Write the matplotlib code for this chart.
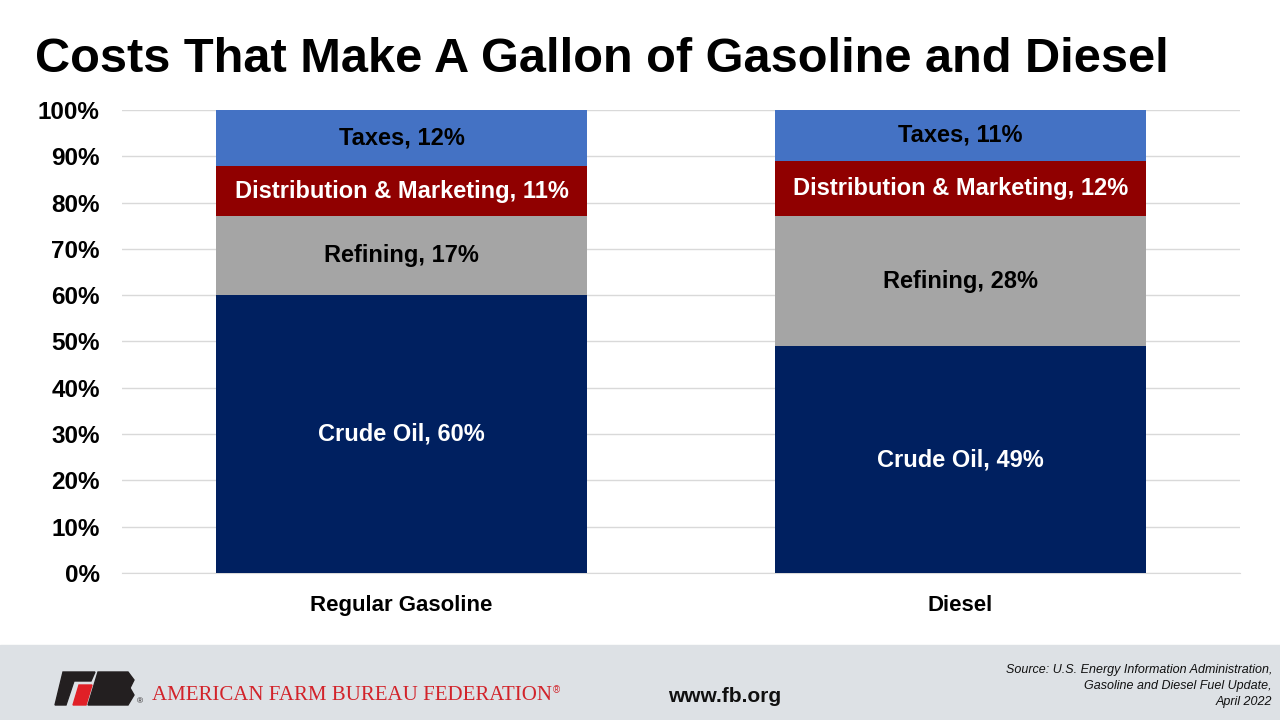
import matplotlib
matplotlib.use("Agg")
import matplotlib.pyplot as plt
from matplotlib.patches import Polygon, Rectangle
import numpy as np

# data
fuels = ["Regular Gasoline", "Diesel"]
components = ["Crude Oil", "Refining", "Distribution & Marketing", "Taxes"]
crude = [60, 49]
refining = [17, 28]
distribution = [11, 12]
taxes = [12, 11]
y_ticks = [0, 10, 20, 30, 40, 50, 60, 70, 80, 90, 100]

colors = ["#002060", "#A5A5A5", "#900000", "#4472C4"]
text_colors = ["white", "black", "white", "black"]

plt.rcParams["font.family"] = ["Liberation Sans", "DejaVu Sans"]

fig = plt.figure(figsize=(12.8, 7.2), dpi=100)
fig.patch.set_facecolor("white")


def fit_width(t, target_px):
    # shrink a text until it is as wide as the reference
    r = fig.canvas.get_renderer()
    w = t.get_window_extent(renderer=r).width
    t.set_fontsize(t.get_fontsize() * target_px / w)


# title
title = fig.text(35 / 1280, 1 - 60 / 720, "Costs That Make A Gallon of Gasoline and Diesel",
                 fontsize=37, fontweight="bold", va="center", ha="left")
fit_width(title, 1133)

ax = fig.add_axes([0.0953, 0.2042, 0.8734, 0.643])
x = np.arange(len(fuels))
bottom = np.zeros(len(fuels))
series = [crude, refining, distribution, taxes]
for name, vals, col, tcol in zip(components, series, colors, text_colors):
    vals = np.array(vals)
    ax.bar(x, vals, width=0.665, bottom=bottom, color=col, zorder=3)
    for xi, b, v in zip(x, bottom, vals):
        ax.text(xi, b + v / 2, "%s, %d%%" % (name, v), ha="center", va="center",
                color=tcol, fontsize=17, fontweight="bold", zorder=4)
    bottom = bottom + vals

ax.set_xlim(-0.5, 1.5)
ax.set_ylim(0, 100)
ax.set_yticks(y_ticks)
ax.set_yticklabels(["%d%%" % t for t in y_ticks], fontsize=17.5, fontweight="bold")
ax.set_xticks(x)
ax.set_xticklabels(fuels, fontsize=16, fontweight="bold")
ax.tick_params(length=0)
ax.tick_params(axis="y", pad=16)
ax.tick_params(axis="x", pad=16)
ax.grid(axis="y", color="#d9d9d9", lw=1, zorder=0)
for s in ["top", "right", "left"]:
    ax.spines[s].set_visible(False)
ax.spines["bottom"].set_color("#d9d9d9")

# footer band
fig.patches.append(Rectangle((0, 0), 1, 75 / 720, transform=fig.transFigure,
                             color="#dde1e5", zorder=0))
# simple FB logo
k = fig.transFigure
def px(xp, yp):
    return (xp / 1280, 1 - yp / 720)
fig.patches.append(Polygon([px(63, 672), px(95, 672), px(91, 681), px(74, 681),
                            px(66, 705), px(55, 705)], closed=True, color="#231f20", transform=k))
fig.patches.append(Polygon([px(79, 685), px(92, 685), px(86, 705), px(73, 705)],
                           closed=True, color="#e02027", transform=k))
fig.patches.append(Polygon([px(98, 672), px(128, 672), px(134, 680), px(130, 688),
                            px(134, 695), px(128, 705), px(88, 705)], closed=True,
                           color="#231f20", transform=k))
fig.text(137 / 1280, 1 - 703 / 720, "®", fontsize=6, color="#231f20")
afbf = fig.text(152 / 1280, 1 - 695 / 720, "AMERICAN FARM BUREAU FEDERATION", fontsize=15,
                color="#d2232a", family=["Liberation Serif", "DejaVu Serif"], va="center")
fit_width(afbf, 400)
fig.text(553 / 1280, 1 - 690 / 720, "®", fontsize=7, color="#d2232a", va="center")
fig.text(668 / 1280, 1 - 697 / 720, "www.fb.org", fontsize=15, fontweight="bold",
         color="#111111", va="center")
fig.text(1272 / 1280, 1 - 686 / 720,
         "Source: U.S. Energy Information Administration,\nGasoline and Diesel Fuel Update,\nApril 2022",
         fontsize=9, style="italic", ha="right", va="center",
         linespacing=1.45, color="#111111")

fig.savefig("out.png", dpi=100)
